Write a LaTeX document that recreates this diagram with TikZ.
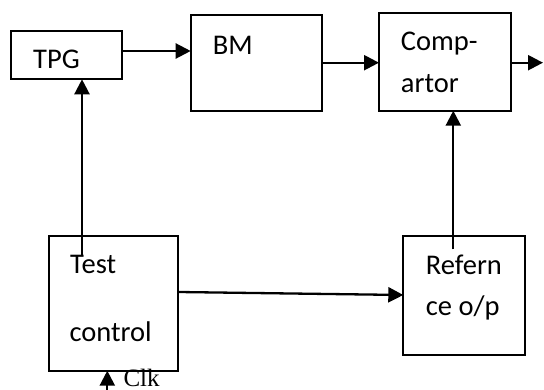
\documentclass[tikz,border=0pt]{standalone}
\usepackage{fontspec}
\setmainfont{Carlito}
\newfontfamily\clkfont{Liberation Serif}
\usetikzlibrary{arrows.meta,calc}

\tikzset{
  block/.style={draw=black, line width=2pt, rectangle, inner sep=0pt, outer sep=0pt},
  lbl/.style={anchor=base west, inner sep=0pt, font=\fontsize{28.5}{30}\selectfont},
  arr/.style={line width=2.3pt, -{Triangle[length=15pt,width=15pt]}}
}

\begin{document}
\begin{tikzpicture}[x=1pt, y=-1pt]
  \useasboundingbox (0,0) rectangle (544,390);

  % functional blocks
  \node[block, minimum width=110.7pt, minimum height=48.3pt]  (tpg)  at (66.35,55.15) {};
  \node[block, minimum width=131pt,   minimum height=95.7pt]  (bm)   at (256.2,62.85) {};
  \node[block, minimum width=131.7pt, minimum height=97.4pt]  (comp) at (444.85,62) {};
  \node[block, minimum width=129.6pt, minimum height=134.7pt] (test) at (113.5,303.35) {};
  \node[block, minimum width=121.7pt, minimum height=119pt]   (ref)  at (464.15,295.5) {};

  % block labels
  \node[lbl] (tpgtxt)   at (33,69)       {TPG};
  \node[lbl] (bmtxt)    at (212.7,55)    {BM};
  \node[lbl] (comptxt)  at (400.7,50.7)  {Comp-};
  \node[lbl] (comptxtb) at (400.7,92.7)  {artor};
  \node[lbl] (testtxt)  at (70,274)      {Test};
  \node[lbl] (testtxtb) at (69.3,341.7)  {control};
  \node[lbl] (reftxt)   at (425.7,274.3) {Refern};
  \node[lbl] (reftxtb)  at (425.7,315.7) {ce o/p};
  \node[anchor=base west, inner sep=0pt, font=\clkfont\fontsize{25}{27}\selectfont] (clk) at (123.3,386) {Clk};

  % free ends
  \coordinate (out)   at (543,62.7);
  \coordinate (clkin) at (107.3,392);

  % signal paths
  \draw[arr] (tpg.east |- 0,51) -- (bm.west |- 0,51);
  \draw[arr] (bm.east |- 0,62.7) -- (comp.west |- 0,62.7);
  \draw[arr] (comp.east |- out) -- (out);
  \draw[arr] ($(test.north -| 82,0)+(0,19)$) -- (tpg.south -| 82,0);
  \draw[arr] ($(ref.north -| 453.3,0)+(0,13.3)$) -- (comp.south -| 453.3,0);
  \draw[arr] (test.east |- 0,292) -- (ref.west |- 0,295);
  \draw[arr] (clkin) -- (test.south -| clkin);
\end{tikzpicture}
\end{document}
